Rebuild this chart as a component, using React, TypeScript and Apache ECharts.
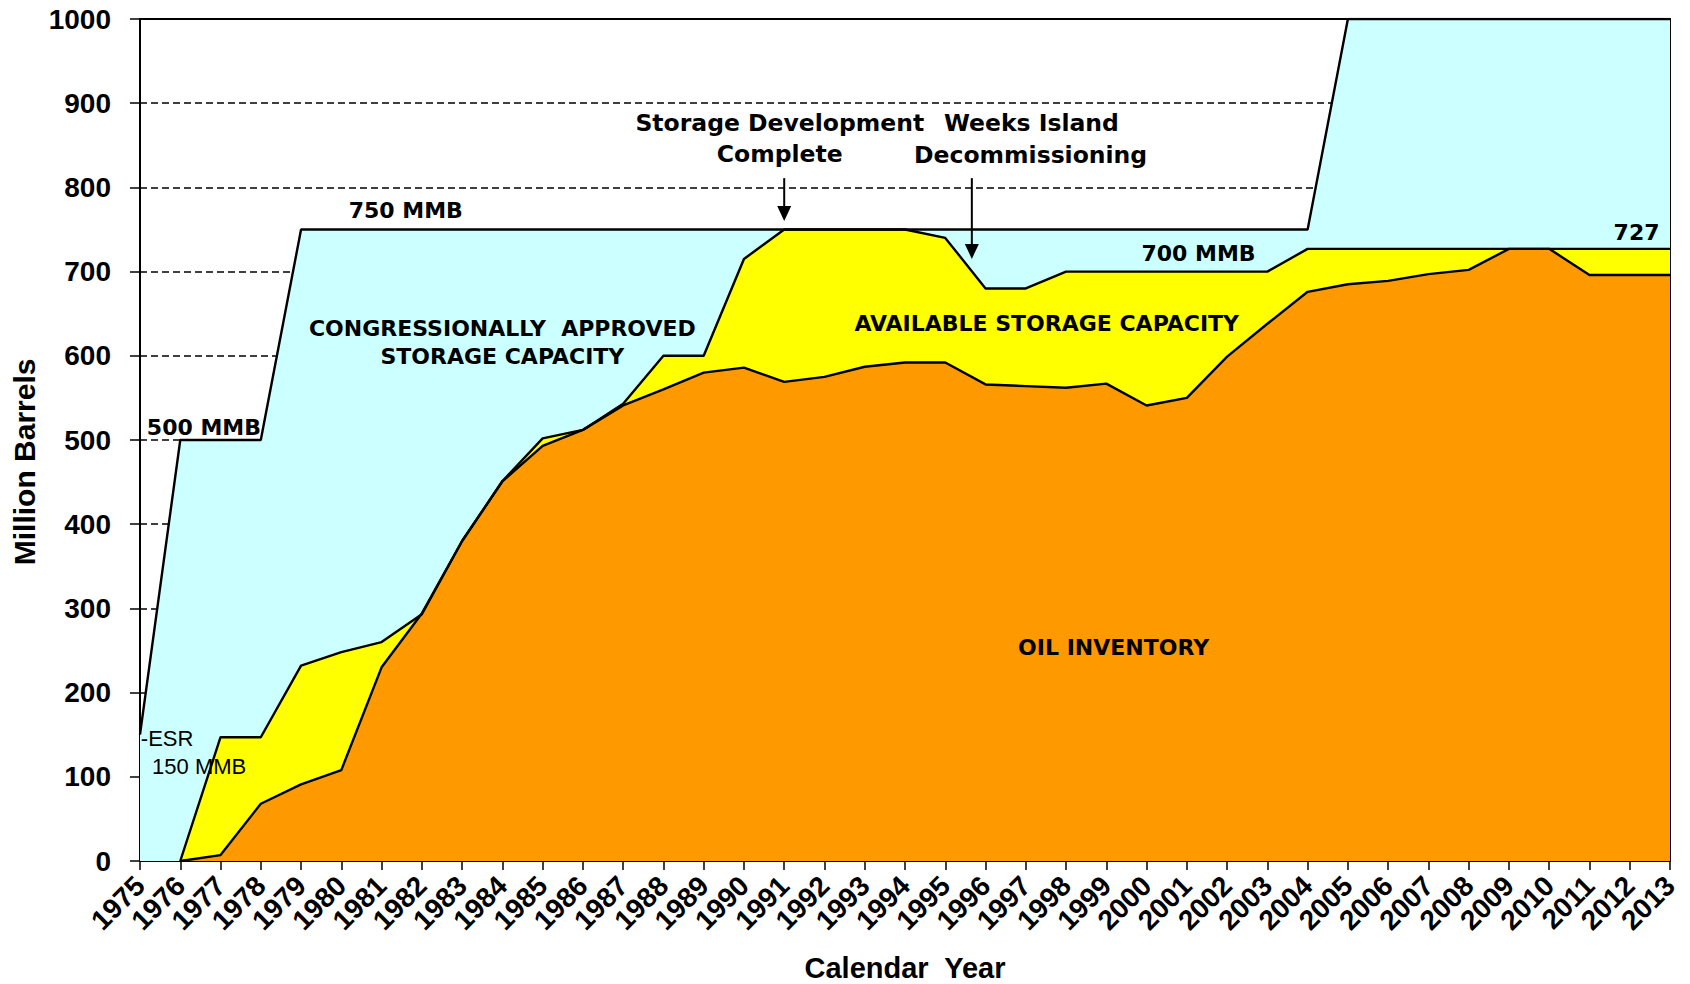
import React, { useEffect, useRef } from "react";
import * as echarts from "echarts";

// ---------- data ----------
const years = [
  1975, 1976, 1977, 1978, 1979, 1980, 1981, 1982, 1983, 1984, 1985, 1986, 1987,
  1988, 1989, 1990, 1991, 1992, 1993, 1994, 1995, 1996, 1997, 1998, 1999, 2000,
  2001, 2002, 2003, 2004, 2005, 2006, 2007, 2008, 2009, 2010, 2011, 2012, 2013,
];

// Congressionally approved storage capacity (top of cyan area)
const approvedCapacity = [
  150, 500, 500, 500, 750, 750, 750, 750, 750, 750, 750, 750, 750,
  750, 750, 750, 750, 750, 750, 750, 750, 750, 750, 750, 750, 750,
  750, 750, 750, 750, 1000, 1000, 1000, 1000, 1000, 1000, 1000, 1000, 1000,
];

// Available (design) storage capacity (top of yellow area)
const availableCapacity: (number | null)[] = [
  null, 0, 147, 147, 232, 248, 260, 293, 380, 451, 502, 512, 543,
  600, 600, 715, 750, 750, 750, 750, 740, 680, 680, 700, 700, 700,
  700, 700, 700, 727, 727, 727, 727, 727, 727, 727, 727, 727, 727,
];

// Oil inventory (top of orange area)
const oilInventory: (number | null)[] = [
  null, 0, 7, 68, 91, 108, 230, 294, 380, 451, 493, 512, 541,
  560, 580, 586, 569, 575, 587, 592, 592, 566, 564, 562, 567, 541,
  550, 599, 638, 676, 685, 689, 697, 702, 727, 727, 696, 696, 696,
];

const yMin = 0;
const yMax = 1000;
const yStep = 100;

// annotation texts anchored in data coordinates
const labelTexts = [
  { text: "750 MMB", year: 1981.6, value: 772, align: "center" },
  { text: "500 MMB", year: 1975.17, value: 515, align: "left" },
  { text: "CONGRESSIONALLY  APPROVED", year: 1984.0, value: 633, align: "center" },
  { text: "STORAGE CAPACITY", year: 1984.0, value: 599, align: "center" },
  { text: "AVAILABLE STORAGE CAPACITY", year: 1997.52, value: 638, align: "center" },
  { text: "OIL INVENTORY", year: 1999.18, value: 253, align: "center" },
  { text: "700 MMB", year: 2001.29, value: 721, align: "center" },
  { text: "727", year: 2012.74, value: 747, align: "right" },
];

const eventTexts = [
  { text: "Storage Development", year: 1990.89, value: 876 },
  { text: "Complete", year: 1990.89, value: 840 },
  { text: "Weeks Island", year: 1997.14, value: 876 },
  { text: "Decommissioning", year: 1997.12, value: 838 },
];

const arrows = [
  { year: 1991, from: 811, to: 760 },
  { year: 1995.66, from: 811, to: 715 },
];

const esrTexts = [
  { text: "-ESR", year: 1975.02, value: 146 },
  { text: "150 MMB", year: 1975.3, value: 112 },
];

const CYAN = "#CCFFFF";
const YELLOW = "#FFFF00";
const ORANGE = "#FF9900";

export default function App() {
  const ref = useRef<HTMLDivElement>(null);

  useEffect(() => {
    if (!ref.current) return;
    const chart = echarts.init(ref.current, null, { renderer: "svg" });

    const pairs = (arr: (number | null)[]) =>
      years.map((y, i) => [y, arr[i]]);

    const seriesBase = (name: string, data: (number | null)[], color: string) => ({
      name,
      type: "line",
      data: pairs(data),
      symbol: "none",
      showSymbol: false,
      connectNulls: false,
      lineStyle: { color: "#000", width: 2.4 },
      areaStyle: { color, opacity: 1, origin: "start" },
      z: 2,
    });

    chart.setOption({
      animation: false,
      backgroundColor: "#fff",
      grid: {
        left: 140,
        right: 20,
        top: 19,
        bottom: 123,
        containLabel: false,
        outerBoundsMode: "none",
        show: true,
        borderColor: "#000",
        borderWidth: 2,
        backgroundColor: "transparent",
      },
      xAxis: {
        type: "value",
        min: 1975,
        max: 2013,
        interval: 1,
        axisLine: { show: true, onZero: false, lineStyle: { color: "#000", width: 2 } },
        axisTick: { show: true, inside: false, length: 9, lineStyle: { color: "#000", width: 1.5 } },
        axisLabel: {
          rotate: 45,
          margin: 20,
          showMinLabel: true,
          showMaxLabel: true,
          hideOverlap: false,
          fontFamily: "Liberation Sans",
          fontWeight: "bold",
          fontSize: 28,
          color: "#000",
          formatter: (v: number) => String(v),
        },
        splitLine: { show: false },
      },
      yAxis: {
        type: "value",
        min: yMin,
        max: yMax,
        interval: yStep,
        axisLine: { show: true, lineStyle: { color: "#000", width: 2 } },
        axisTick: { show: true, inside: false, length: 10, lineStyle: { color: "#000", width: 1.5 } },
        axisLabel: {
          margin: 29,
          showMinLabel: true,
          showMaxLabel: true,
          fontFamily: "Liberation Sans",
          fontWeight: "bold",
          fontSize: 28,
          color: "#000",
          formatter: (v: number) => String(v),
        },
        splitLine: {
          show: true,
          showMinLine: false,
          showMaxLine: false,
          lineStyle: { color: "#000", width: 1.5, type: [7, 4] },
        },
      },
      series: [
        seriesBase("Congressionally Approved Storage Capacity", approvedCapacity, CYAN),
        seriesBase("Available Storage Capacity", availableCapacity, YELLOW),
        seriesBase("Oil Inventory", oilInventory, ORANGE),
      ],
    });

    const toPx = (yr: number, v: number) =>
      chart.convertToPixel({ xAxisIndex: 0, yAxisIndex: 0 }, [yr, v]) as number[];

    const graphics: any[] = [];

    const textEl = (
      text: string,
      x: number,
      y: number,
      align: string,
      font: string,
      extra: any = {}
    ) => ({
      type: "text",
      x,
      y,
      z: 100,
      ...extra,
      style: {
        text,
        fill: "#000",
        font,
        align,
        verticalAlign: "middle",
        textAlign: align,
        textVerticalAlign: "middle",
      },
    });

    const insideFont = 'bold 22px "DejaVu Sans"';
    const eventFont = 'bold 23.5px "DejaVu Sans"';

    labelTexts.forEach((l) => {
      const [x, y] = toPx(l.year, l.value);
      graphics.push(textEl(l.text, x, y, l.align, insideFont));
    });
    eventTexts.forEach((l) => {
      const [x, y] = toPx(l.year, l.value);
      graphics.push(textEl(l.text, x, y, "center", eventFont));
    });
    esrTexts.forEach((l) => {
      const [x, y] = toPx(l.year, l.value);
      graphics.push(textEl(l.text, x, y, "left", '22px "Liberation Sans"'));
    });
    arrows.forEach((a) => {
      const [x, y1] = toPx(a.year, a.from);
      const [, y2] = toPx(a.year, a.to);
      graphics.push({
        type: "line",
        z: 100,
        shape: { x1: x, y1, x2: x, y2: y2 - 10 },
        style: { stroke: "#000", lineWidth: 2 },
      });
      graphics.push({
        type: "polygon",
        z: 100,
        shape: {
          points: [
            [x - 7, y2 - 15],
            [x + 7, y2 - 15],
            [x, y2],
          ],
        },
        style: { fill: "#000" },
      });
    });
    // axis titles
    const [, yMid] = toPx(1975, 474);
    graphics.push(
      textEl("Million Barrels", 24, yMid, "center", 'bold 30px "Liberation Sans"', {
        rotation: Math.PI / 2,
      })
    );
    const [xMid] = toPx(1994, 0);
    graphics.push(
      textEl("Calendar  Year", xMid, 968, "center", 'bold 29px "Liberation Sans"')
    );

    chart.setOption({ graphic: graphics });

    return () => chart.dispose();
  }, []);

  return (
    <div
      ref={ref}
      style={{ position: "fixed", left: 0, top: 0, width: 1690, height: 984 }}
    />
  );
}
